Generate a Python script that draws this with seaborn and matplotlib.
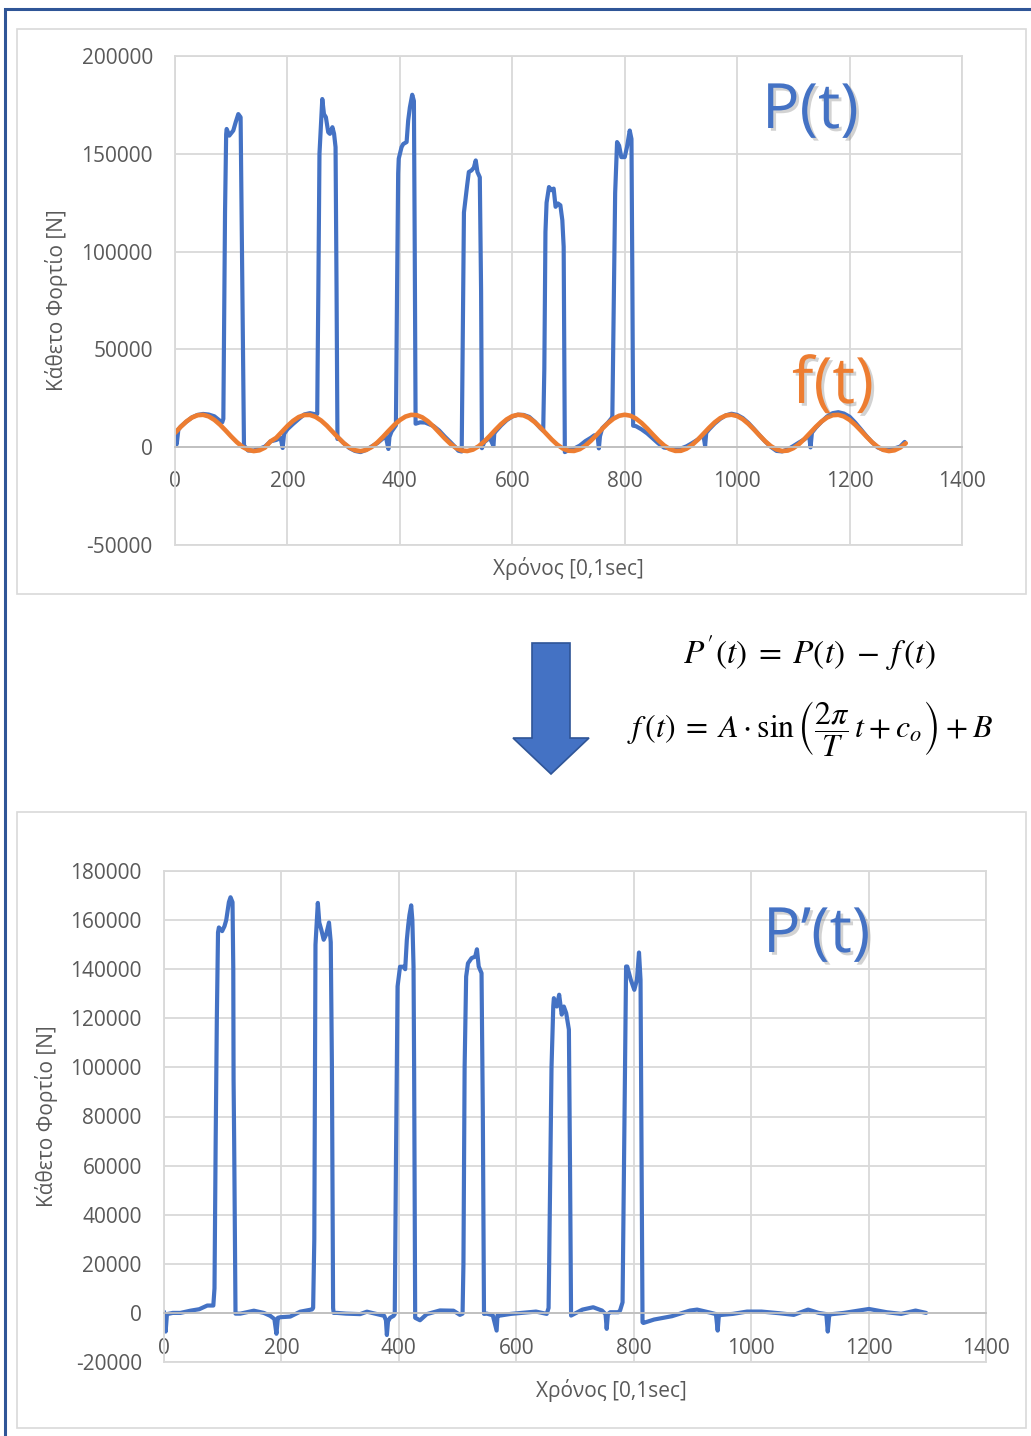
import matplotlib
matplotlib.use("Agg")
import matplotlib.pyplot as plt
import matplotlib.patches as mpatches
import matplotlib.patheffects as pe
from matplotlib.ticker import FuncFormatter
import seaborn as sns

# ---------------- data ----------------
# P(t): measured vertical load, top chart  [time in 0.1 s, load in N]
P_time = [0, 3, 6, 10, 20, 30, 40, 50, 60, 70, 80, 84, 86, 87, 87.7, 89, 91, 91.9, 96.6, 103.7,
          107.9, 112.6, 116.7, 118.5, 120.3, 122.7, 130, 140, 150, 160, 170, 180, 188, 191.5, 194,
          200, 210, 220, 230, 240, 250, 253, 253.6, 255, 257, 262, 265, 268.4, 272.6, 275.6, 280,
          283, 285.6, 287.4, 289, 290, 300, 310, 320, 330, 340, 350, 360, 370, 375, 379.6, 381.5,
          385, 391, 393, 395, 397, 398, 403, 406, 412, 414.8, 417.8, 422, 425, 426.5, 428, 436,
          445, 450, 460, 470, 480, 490, 500, 504, 510, 512, 514, 519.7, 522.7, 527.4, 531.6, 535,
          538, 542.2, 544.5, 546, 550, 560, 566.5, 568, 570, 580, 590, 600, 610, 620, 630, 640,
          650, 655, 657, 659, 661, 665.3, 669.4, 673.6, 677, 681.3, 685.5, 689, 691.4, 692.5,
          693.5, 700, 710, 720, 730, 740, 746, 752, 754, 756, 760, 770, 776.8, 778, 780, 783,
          786.4, 790, 794, 800, 804, 808.9, 812, 813.5, 815, 820, 830, 840, 850, 860, 870, 880,
          890, 900, 910, 920, 930, 940, 943, 945, 950, 960, 970, 980, 990, 1000, 1010, 1020,
          1030, 1040, 1050, 1060, 1070, 1080, 1090, 1100, 1110, 1120, 1128, 1130.5, 1133, 1140,
          1150, 1160, 1170, 1180, 1190, 1200, 1210, 1220, 1230, 1240, 1250, 1260, 1270, 1280,
          1290, 1298]
P_load = [7000, 1500, 9000, 10500, 13000, 15200, 16500, 17000, 16700, 15800, 13500, 12700, 14500,
          50000, 78800, 120000, 160000, 162700, 159300, 161900, 166100, 170300, 168700, 119500,
          68600, 900, -1700, -1700, -800, 300, 3000, 3700, 4700, -400, 6800, 9200, 11900, 14400,
          16750, 17400, 16800, 17000, 38000, 80000, 150000, 178000, 170300, 168700, 161000,
          160200, 163600, 160200, 153400, 80000, 4200, 5000, 2100, -400, -1900, -2500, -1400,
          400, 2100, 4500, 5600, -900, 5200, 7900, 10400, 11200, 80000, 140000, 147500, 153400,
          155000, 156000, 167000, 173700, 180200, 177000, 100000, 12000, 12700, 12600, 12000,
          10800, 8500, 5400, 2600, -400, -1800, -2200, 60000, 120000, 133900, 140700, 141500,
          142900, 146600, 140700, 138000, 80000, -500, 2600, 4800, 600, 7300, 7900, 11100, 13800,
          15700, 16600, 16500, 15500, 13000, 9750, 8500, 40000, 110000, 125000, 133000, 131400,
          132200, 122900, 124600, 123700, 116100, 102500, 50000, -2500, -1500, -700, 800, 3100,
          4850, 6100, 5200, -600, 5600, 9700, 12500, 14900, 16000, 60000, 130000, 156000,
          154200, 148300, 148300, 153400, 161900, 157600, 90000, 11000, 10750, 9100, 7050, 4500,
          1900, -200, -550, -1000, -650, 450, 2100, 3900, 6300, 600, 7300, 9100, 12100, 14500,
          16300, 17100, 16500, 14900, 12400, 9300, 6050, 2900, 150, -1900, -2150, -1100, 600,
          2400, 4100, 6200, -100, 7400, 10000, 13000, 15700, 17400, 17900, 17200, 15600, 12600,
          9200, 5700, 2550, -100, -1300, -1500, -600, 300, 2700]

# f(t): fitted sinusoid, read every 10 time units
f_time = list(range(0, 1301, 10))
f_load = [7300, 10370, 13080, 15140, 16350, 16550, 15740, 13990, 11510, 8560, 5470, 2590, 220,
          -1360, -1990, -1600, -220, 2990, 4780, 7850, 10860, 13470, 15410, 16450, 16490, 15500,
          13620, 11040, 8040, 4960, 2140, -100, -1540, -2000, -1430, 100, 2430, 5290, 8370, 11340,
          13860, 15660, 16530, 16390, 15240, 13220, 10550, 7510, 4460, 1720, -410, -1690, -1970,
          -1240, 450, 2880, 5800, 8890, 11800, 14220, 15870, 16580, 16260, 14960, 12810, 10050,
          6990, 3970, 1300, -700, -1810, -1920, -1010, 810, 3350, 6320, 9400, 12260, 14560, 16060,
          16600, 16110, 14650, 12380, 9550, 6470, 3480, 910, -950, -1900, -1840, -760, 1190, 3830,
          6840, 9910, 12690, 14880, 16220, 16590, 15930, 14320, 11930, 9040, 5950, 3010, 550,
          -1170, -1960, -1730, -490, 1600, 4320, 7370, 10410, 13110, 15170, 16360, 16550, 15720,
          13970, 11470, 8520, 5430, 2550, 200, -1380, -1990, -1580, -200, 2020]

# P'(t) = P(t) - f(t): corrected load, bottom chart
Pc_time = [0, 2.8, 5, 15, 28, 45, 60, 73.7, 84, 86, 88, 90, 92, 93.5, 99, 103, 106, 110.5, 113.3,
           116.7, 118, 118.5, 119.5, 121.8, 130, 153, 170, 181, 188, 191.5, 194, 198, 215, 232,
           252, 254, 256, 258, 262, 264.5, 268, 272, 276, 281, 284, 286, 288, 289, 294.6, 310,
           334, 345.6, 368, 375, 378, 379.6, 381.5, 385, 391, 393, 395, 397.8, 402, 408, 410.8,
           413.6, 416, 418, 421, 423, 425, 426, 427.8, 436, 447.6, 470, 493, 504, 508.5, 510,
           512, 514.6, 517.7, 523.8, 530, 533, 536, 540.8, 543, 545, 550, 560, 566.5, 568, 572.6,
           590.9, 621, 633.5, 651.8, 655, 656, 660, 663, 664, 669, 673, 677.4, 681, 685, 689.6,
           691.5, 693.3, 712.8, 731, 746, 752, 754, 756, 760, 773.8, 776.8, 781, 784.8, 787, 789,
           795, 801, 805.5, 809, 811.6, 813.4, 815, 816.5, 834.8, 865, 895.8, 908, 932, 940, 943,
           945, 950.6, 969, 993, 1017.7, 1048, 1072.6, 1097, 1115, 1128, 1130.5, 1133, 1136.6,
           1158, 1200.6, 1231, 1255.5, 1280, 1298]
Pc_load = [500, -7600, -500, 0, 0, 900, 1500, 3000, 3000, 10000, 70000, 120000, 155000, 157000,
           155500, 157500, 160000, 167300, 169300, 167300, 140000, 95000, 70000, -300, -300, 900,
           0, -1200, -2500, -8500, -2000, -1760, -1500, 500, 1400, 2000, 30000, 150000, 167000,
           159000, 156000, 152000, 154000, 159000, 151000, 100000, 2000, 0, 0, -300, -500, 500,
           -800, -1200, -3000, -9000, -3500, -2000, -1200, -500, 60000, 133000, 141000, 141000,
           140000, 152000, 158000, 162000, 166000, 160000, 141000, 100000, -2000, -3000, -500,
           1000, 900, -800, -300, 20000, 100000, 137000, 142400, 144500, 145150, 148100, 141100,
           138400, 81500, -400, -300, -1000, -7200, -1000, -1080, -400, 270, 540, -400, 2000,
           20000, 100000, 125000, 128200, 124800, 129600, 121500, 124800, 122100, 115400, 60000,
           -1080, 1350, 2300, 950, -500, -6500, -500, 270, 270, 1000, 4300, 88300, 141100,
           141100, 135700, 131600, 135700, 146800, 135700, 60000, -3800, -4100, -2700, -1350, 950,
           1350, 0, -500, -7200, -1000, -800, -400, 540, 540, -135, -800, 1350, 0, -500, -7600,
           -1000, -540, 0, 1600, 270, -400, 950, 0]

x_ticks = [0, 200, 400, 600, 800, 1000, 1200, 1400]
top_yticks = [-50000, 0, 50000, 100000, 150000, 200000]
bot_yticks = [-20000, 0, 20000, 40000, 60000, 80000, 100000, 120000, 140000, 160000, 180000]
y_label = "Κάθετο Φορτίο [N]"
x_label = "Χρόνος [0,1sec]"

# ---------------- styling ----------------
sns.set_style("white")
plt.rcParams['font.family'] = ['Open Sans', 'DejaVu Sans']
plt.rcParams['mathtext.fontset'] = 'stix'

BLUE = '#4472C4'
ORANGE = '#ED7D31'
GRID = '#D9D9D9'
TXT = '#595959'

W, H = 1031, 1436
fig = plt.figure(figsize=(W / 100, H / 100), dpi=100)


def fx(px):
    return px / W


def fy(py):
    return 1 - py / H


# outer dark-blue frame (only top & left visible)
fig.add_artist(mpatches.Rectangle((fx(5), fy(1460)), fx(1050) - fx(5), fy(9) - fy(1460),
                                  fill=False, edgecolor='#2F5597', lw=2.2,
                                  transform=fig.transFigure, zorder=0))
# chart-area boxes
for (x0, y0, x1, y1) in [(17, 29, 1026, 594), (17, 812, 1026, 1428)]:
    fig.add_artist(mpatches.Rectangle((fx(x0), fy(y1)), fx(x1) - fx(x0), fy(y0) - fy(y1),
                                      facecolor='white', edgecolor=GRID, lw=1.2,
                                      transform=fig.transFigure, zorder=0))


def style(ax, yticks, ylim, xpad, ypad):
    ax.set_xlim(0, 1400)
    ax.set_ylim(*ylim)
    ax.set_xticks(x_ticks)
    ax.set_yticks(yticks)
    ax.yaxis.set_major_formatter(FuncFormatter(lambda v, p: f"{int(v)}"))
    ax.grid(True, color=GRID, lw=1.3)
    ax.set_axisbelow(True)
    for s in ['top', 'right', 'left']:
        ax.spines[s].set_color(GRID)
        ax.spines[s].set_linewidth(1.3)
    ax.spines['bottom'].set_position(('data', 0))
    ax.spines['bottom'].set_color('#BFBFBF')
    ax.spines['bottom'].set_linewidth(1.3)
    ax.axhline(ylim[0], color=GRID, lw=1.3, clip_on=False, zorder=0)
    ax.tick_params(axis='both', length=0, labelsize=15, labelcolor=TXT)
    ax.tick_params(axis='x', pad=xpad)
    ax.tick_params(axis='y', pad=ypad)
    ax.set_xlabel('')
    ax.set_ylabel('')
    ax.patch.set_alpha(0)


# ---- top chart ----
ax1 = fig.add_axes([fx(175), fy(545), fx(962) - fx(175), fy(56) - fy(545)])
sns.lineplot(x=P_time, y=P_load, ax=ax1, color=BLUE, linewidth=3.0, sort=False,
             estimator=None, solid_joinstyle='round', solid_capstyle='round')
sns.lineplot(x=f_time, y=f_load, ax=ax1, color=ORANGE, linewidth=3.3, sort=False,
             estimator=None, solid_joinstyle='round', solid_capstyle='round')
style(ax1, top_yticks, (-50000, 200000), 17, 16)
ax1.text((57 - 175) / 787, 0.5, y_label, transform=ax1.transAxes, rotation=90,
         ha='center', va='center', fontsize=15, color=TXT)
ax1.text((568 - 175) / 787, (545 - 568) / 489, x_label, transform=ax1.transAxes,
         ha='center', va='center', fontsize=15, color=TXT)

# ---- bottom chart ----
ax2 = fig.add_axes([fx(164), fy(1362), fx(986) - fx(164), fy(871) - fy(1362)])
sns.lineplot(x=Pc_time, y=Pc_load, ax=ax2, color=BLUE, linewidth=3.0, sort=False,
             estimator=None, solid_joinstyle='round', solid_capstyle='round')
style(ax2, bot_yticks, (-20000, 180000), 18, 16)
ax2.text((46 - 164) / 822, 0.5, y_label, transform=ax2.transAxes, rotation=90,
         ha='center', va='center', fontsize=15, color=TXT)
ax2.text((611 - 164) / 822, (1362 - 1391) / 491, x_label, transform=ax2.transAxes,
         ha='center', va='center', fontsize=15, color=TXT)

# ---- big series labels with soft shadow ----
shadow = [pe.withSimplePatchShadow(offset=(2, -2), shadow_rgbFace='#808080', alpha=0.35)]
fig.text(fx(762), fy(128), 'P(t)', color=BLUE, fontsize=45, ha='left', va='baseline',
         path_effects=shadow)
fig.text(fx(792), fy(403), 'f(t)', color=ORANGE, fontsize=46, ha='left', va='baseline',
         path_effects=shadow)
fig.text(fx(763), fy(952), 'P’(t)', color=BLUE, fontsize=45, ha='left', va='baseline',
         path_effects=shadow)

# ---- equations ----
fig.text(fx(809), fy(663), r"$P^{\prime}(t)\;=\;P(t)\;-\;f\,(t)$", fontsize=24, ha='center',
         va='baseline', color='black')
fig.text(fx(810), fy(729),
         r"$f\,(t)\;=\;A\cdot\sin\left(\dfrac{2\pi}{T}\,t\:+\:c_o\right)\:+\:B$",
         fontsize=23, ha='center', va='center', color='black')

# ---- block arrow ----
arrow_px = [(532, 643), (570, 643), (570, 738), (589, 738), (551, 774), (513, 738), (532, 738)]
fig.add_artist(mpatches.Polygon([(fx(a), fy(b)) for a, b in arrow_px], closed=True,
                                facecolor=BLUE, edgecolor='#2F5597', lw=1.2,
                                transform=fig.transFigure))

fig.savefig('out.png', dpi=100)
